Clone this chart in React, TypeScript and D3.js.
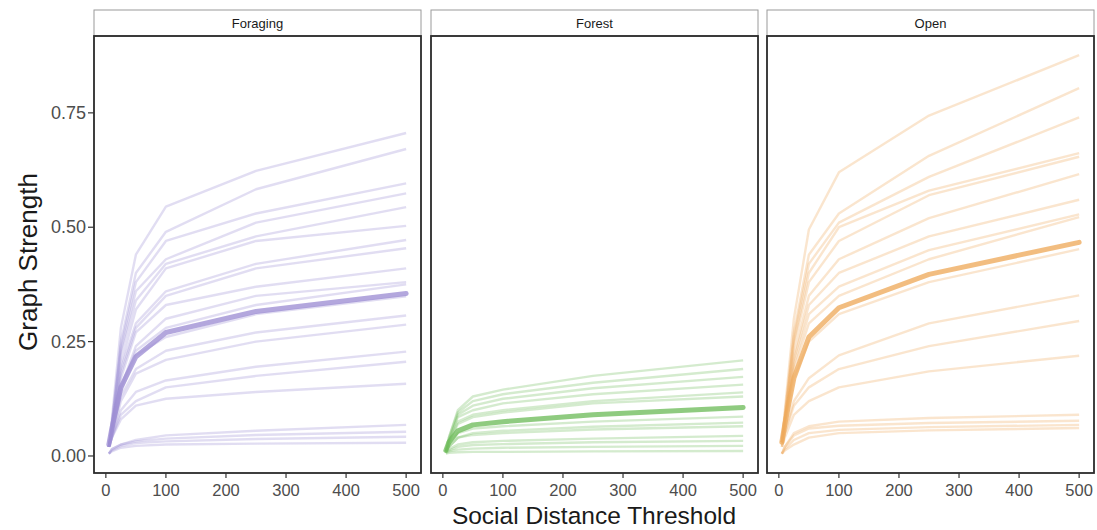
import React from "react";
import * as d3 from "d3";

const thresholds = [5, 10, 25, 50, 100, 250, 500];
const panels = ["Foraging", "Forest", "Open"];
const yTicks = [0, 0.25, 0.5, 0.75];
const xTicks = [0, 100, 200, 300, 400, 500];

const foragingLines = [
  [0.02, 0.08, 0.28, 0.44, 0.545, 0.623, 0.706],
  [0.02, 0.07, 0.25, 0.40, 0.49, 0.583, 0.671],
  [0.02, 0.07, 0.24, 0.38, 0.47, 0.53, 0.596],
  [0.02, 0.07, 0.23, 0.36, 0.43, 0.51, 0.574],
  [0.02, 0.06, 0.22, 0.34, 0.42, 0.48, 0.544],
  [0.02, 0.06, 0.20, 0.32, 0.41, 0.47, 0.503],
  [0.02, 0.06, 0.19, 0.29, 0.36, 0.42, 0.472],
  [0.02, 0.06, 0.18, 0.28, 0.35, 0.41, 0.454],
  [0.02, 0.05, 0.17, 0.27, 0.33, 0.37, 0.41],
  [0.02, 0.05, 0.15, 0.24, 0.30, 0.35, 0.38],
  [0.02, 0.05, 0.15, 0.23, 0.28, 0.33, 0.375],
  [0.02, 0.05, 0.14, 0.22, 0.26, 0.31, 0.349],
  [0.02, 0.05, 0.13, 0.19, 0.23, 0.27, 0.307],
  [0.02, 0.04, 0.12, 0.18, 0.21, 0.25, 0.287],
  [0.02, 0.04, 0.10, 0.14, 0.165, 0.195, 0.228],
  [0.02, 0.04, 0.09, 0.12, 0.15, 0.175, 0.206],
  [0.02, 0.04, 0.08, 0.11, 0.125, 0.14, 0.158],
  [0.005, 0.015, 0.025, 0.035, 0.045, 0.055, 0.068],
  [0.005, 0.015, 0.025, 0.032, 0.038, 0.046, 0.053],
  [0.005, 0.012, 0.022, 0.028, 0.032, 0.037, 0.042],
  [0.005, 0.01, 0.018, 0.022, 0.025, 0.027, 0.029],
];
const foragingMean = [0.025, 0.06, 0.15, 0.217, 0.27, 0.316, 0.355];

const forestLines = [
  [0.01, 0.04, 0.10, 0.13, 0.145, 0.175, 0.209],
  [0.01, 0.04, 0.095, 0.12, 0.135, 0.16, 0.19],
  [0.01, 0.035, 0.09, 0.11, 0.125, 0.148, 0.173],
  [0.01, 0.035, 0.085, 0.10, 0.115, 0.135, 0.156],
  [0.01, 0.03, 0.075, 0.09, 0.10, 0.12, 0.139],
  [0.01, 0.03, 0.07, 0.085, 0.095, 0.115, 0.13],
  [0.01, 0.025, 0.05, 0.06, 0.065, 0.075, 0.086],
  [0.01, 0.02, 0.04, 0.05, 0.055, 0.064, 0.073],
  [0.01, 0.02, 0.04, 0.046, 0.05, 0.058, 0.065],
  [0.008, 0.015, 0.025, 0.03, 0.033, 0.038, 0.044],
  [0.008, 0.012, 0.02, 0.024, 0.026, 0.03, 0.033],
  [0.006, 0.01, 0.014, 0.016, 0.018, 0.02, 0.022],
  [0.005, 0.007, 0.008, 0.009, 0.009, 0.01, 0.011],
];
const forestMean = [0.012, 0.03, 0.055, 0.068, 0.075, 0.09, 0.106];

const openLines = [
  [0.03, 0.10, 0.30, 0.495, 0.62, 0.744, 0.876],
  [0.03, 0.09, 0.27, 0.44, 0.53, 0.656, 0.804],
  [0.03, 0.09, 0.26, 0.42, 0.51, 0.61, 0.74],
  [0.03, 0.08, 0.25, 0.40, 0.50, 0.58, 0.662],
  [0.03, 0.08, 0.24, 0.38, 0.47, 0.57, 0.654],
  [0.03, 0.08, 0.22, 0.35, 0.43, 0.52, 0.616],
  [0.03, 0.07, 0.21, 0.33, 0.40, 0.48, 0.56],
  [0.03, 0.07, 0.20, 0.31, 0.37, 0.45, 0.528],
  [0.03, 0.07, 0.19, 0.29, 0.35, 0.43, 0.522],
  [0.03, 0.06, 0.17, 0.25, 0.31, 0.38, 0.452],
  [0.02, 0.05, 0.12, 0.17, 0.22, 0.29, 0.351],
  [0.02, 0.05, 0.11, 0.15, 0.19, 0.24, 0.295],
  [0.02, 0.04, 0.09, 0.12, 0.15, 0.185, 0.219],
  [0.005, 0.02, 0.05, 0.065, 0.075, 0.083, 0.09],
  [0.005, 0.02, 0.045, 0.06, 0.066, 0.072, 0.077],
  [0.005, 0.015, 0.035, 0.05, 0.057, 0.063, 0.068],
  [0.005, 0.012, 0.025, 0.04, 0.05, 0.056, 0.061],
];
const openMean = [0.03, 0.07, 0.17, 0.26, 0.324, 0.397, 0.467];

const panelLines = [foragingLines, forestLines, openLines];
const panelMeans = [foragingMean, forestMean, openMean];
const panelColors = ["#9d8ed3", "#6fbd5c", "#eeaa5c"];

const W = 1097;
const H = 530;
const panelLefts = [94, 431, 767];
const panelW = 327;
const panelTop = 36;
const panelBottom = 473;
const stripTop = 10;

const yScale = d3.scaleLinear().domain([-0.0372, 0.918]).range([panelBottom, panelTop]);
const font = "'Liberation Sans', Arial, Helvetica, sans-serif";

export default function App() {
  return (
    <svg width={W} height={H} style={{ position: "absolute", left: 0, top: 0, background: "#fff" }} fontFamily={font}>
      <defs>
        {panels.map((p, i) => (
          <clipPath id={`clip${i}`} key={p}>
            <rect x={panelLefts[i]} y={panelTop} width={panelW} height={panelBottom - panelTop} />
          </clipPath>
        ))}
      </defs>
      {panels.map((p, i) => {
        const left = panelLefts[i];
        const x = d3.scaleLinear().domain([-19.75, 524.75]).range([left, left + panelW]);
        const line = d3
          .line<number>()
          .x((_, k) => x(thresholds[k]))
          .y((d) => yScale(d));
        return (
          <g key={p}>
            <rect x={left} y={stripTop} width={panelW} height={panelTop - stripTop} fill="#fff" stroke="#9a9a9a" strokeWidth={1} />
            <text x={left + panelW / 2} y={28} textAnchor="middle" fontSize={13} fill="#1a1a1a">
              {p}
            </text>
            <g clipPath={`url(#clip${i})`}>
              {panelLines[i].map((vals, j) => (
                <path key={j} d={line(vals) || ""} fill="none" stroke={panelColors[i]} strokeOpacity={0.3} strokeWidth={2.4} strokeLinejoin="round" />
              ))}
              <path d={line(panelMeans[i]) || ""} fill="none" stroke={panelColors[i]} strokeOpacity={0.78} strokeWidth={5} strokeLinejoin="round" strokeLinecap="round" />
            </g>
            <rect x={left} y={panelTop} width={panelW} height={panelBottom - panelTop} fill="none" stroke="#2b2b2b" strokeWidth={1.8} />
            {xTicks.map((t) => (
              <g key={t}>
                <line x1={x(t)} x2={x(t)} y1={panelBottom} y2={panelBottom + 5} stroke="#333" strokeWidth={1.2} />
                <text x={x(t)} y={496} textAnchor="middle" fontSize={16.5} fill="#4d4d4d">
                  {t}
                </text>
              </g>
            ))}
          </g>
        );
      })}
      {yTicks.map((t) => (
        <g key={t}>
          <line x1={88} x2={94} y1={yScale(t)} y2={yScale(t)} stroke="#333" strokeWidth={1.2} />
          <text x={86} y={yScale(t) + 6} textAnchor="end" fontSize={18} fill="#4d4d4d">
            {d3.format(".2f")(t)}
          </text>
        </g>
      ))}
      <text transform={`translate(37, 262) rotate(-90)`} textAnchor="middle" fontSize={26} fill="#1a1a1a">
        Graph Strength
      </text>
      <text x={(panelLefts[0] + panelLefts[2] + panelW) / 2} y={524} textAnchor="middle" fontSize={24.5} fill="#1a1a1a">
        Social Distance Threshold
      </text>
    </svg>
  );
}
